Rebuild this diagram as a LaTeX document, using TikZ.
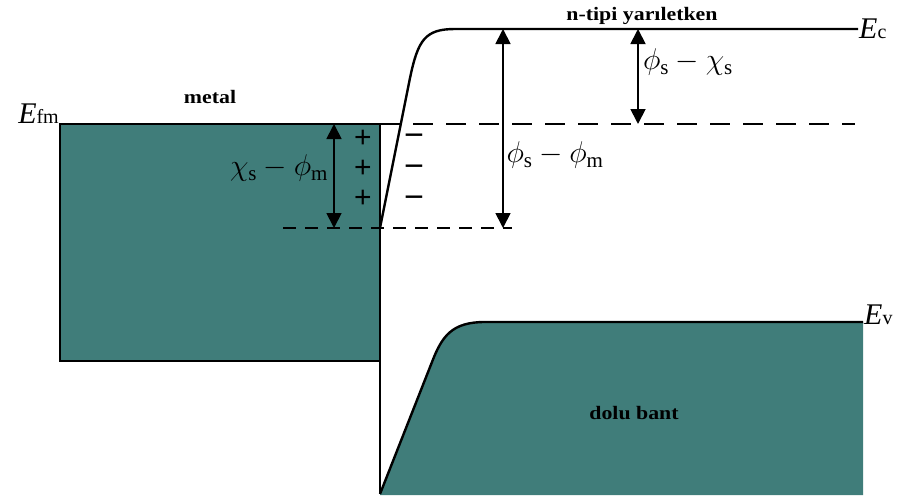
\RequirePackage{fix-cm}
\documentclass[tikz,border=0pt]{standalone}
\usepackage{fontspec}
\setmainfont{Liberation Serif}
\newfontfamily\genisfont[FakeStretch=1.15]{Liberation Serif}
\newfontfamily\isaretfont{Liberation Sans}
\usetikzlibrary{arrows.meta}
\definecolor{bantrengi}{RGB}{64,125,122}

\begin{document}
\begin{tikzpicture}[
    x=1pt, y=-1pt,
    bant/.style={fill=bantrengi},
    cizgi/.style={line width=2.4pt},
    kesik/.style={line width=2.6pt, dash pattern=on 20pt off 13pt},
    kisakesik/.style={line width=2.6pt, dash pattern=on 13pt off 9pt},
    fark/.style={{Triangle[length=15pt,width=15pt]}-{Triangle[length=15pt,width=15pt]},
                 line width=1.8pt},
    baslik/.style={font=\genisfont\bfseries\fontsize{19}{22}\selectfont, inner sep=0pt},
    seviye/.style={font=\fontsize{30}{34}\selectfont, inner sep=0pt},
    arti/.style={font=\isaretfont\fontsize{30}{30}\selectfont, inner sep=0pt, align=center},
    eksi/.style={font=\isaretfont\fontsize{34}{31}\selectfont, inner sep=0pt, align=center}
]
\useasboundingbox (0,0) rectangle (899,498);

% metal blogu
\node[draw, bant, cizgi, anchor=north west, inner sep=0pt, outer sep=0pt,
      minimum width=320pt, minimum height=237pt] (metalblok) at (60,124) {};
\node[baslik] (metalyazi) at (210,97) {metal};
\node[seviye, anchor=base east] (efm) at (59,123)
    {\textit{E}{\fontsize{20}{22}\selectfont fm}};

% iletim bandi
\coordinate (ibalt) at (380,228);
\coordinate (ibsag) at (858,29);
\draw[cizgi] (ibalt) -- (410,78) .. controls (418,40) and (425,29) .. (455,29) -- (ibsag);
\node[seviye, anchor=base west] (ec) at (859,38)
    {\textit{E}{\fontsize{20}{22}\selectfont c}};
\node[baslik] (nyazi) at (642,16) {n-tipi yarıletken};

% dolu bant
\coordinate (vbalt) at (380,494);
\coordinate (vbsag) at (863,322);
\fill[bant] (vbalt) -- (432,362) .. controls (442,336) and (452,322) .. (485,322)
    -- (vbsag) -- (863,495) -- (380,495) -- cycle;
\draw[cizgi] (vbalt) -- (432,362) .. controls (442,336) and (452,322) .. (485,322) -- (vbsag);
\draw[cizgi] (metalblok.south east) -- (vbalt);
\node[seviye, anchor=base west] (ev) at (864,324)
    {\textit{E}{\fontsize{20}{22}\selectfont v}};
\node[baslik] (doluyazi) at (634,413) {dolu bant};

% fermi seviyeleri
\coordinate (fsag) at (855,124);
\coordinate (kisasol) at (283,228);
\coordinate (kisasag) at (512,228);
\draw[kesik] (metalblok.north east) -- (fsag);
\draw[kisakesik] (kisasol) -- (kisasag);

% enerji farklari
\coordinate (chiust) at (334,124);
\coordinate (chialt) at (334,228);
\coordinate (phiust) at (503,29);
\coordinate (phialt) at (503,228);
\coordinate (farkust) at (638,29);
\coordinate (farkalt) at (638,124);
\draw[fark] (chiust) -- (chialt);
\draw[fark] (phiust) -- (phialt);
\draw[fark] (farkust) -- (farkalt);
\node[seviye] (chietiket) at (279,168) {$\chi_{\mathrm{s}}-\phi_{\mathrm{m}}$};
\node[seviye] (phietiket) at (555,155) {$\phi_{\mathrm{s}}-\phi_{\mathrm{m}}$};
\node[seviye] (farketiket) at (688,62) {$\phi_{\mathrm{s}}-\chi_{\mathrm{s}}$};

% yukler
\node[arti] (artilar) at (363,169) {+\\+\\+};
\node[eksi] (eksiler) at (414,171) {−\\−\\−};

\end{tikzpicture}
\end{document}
